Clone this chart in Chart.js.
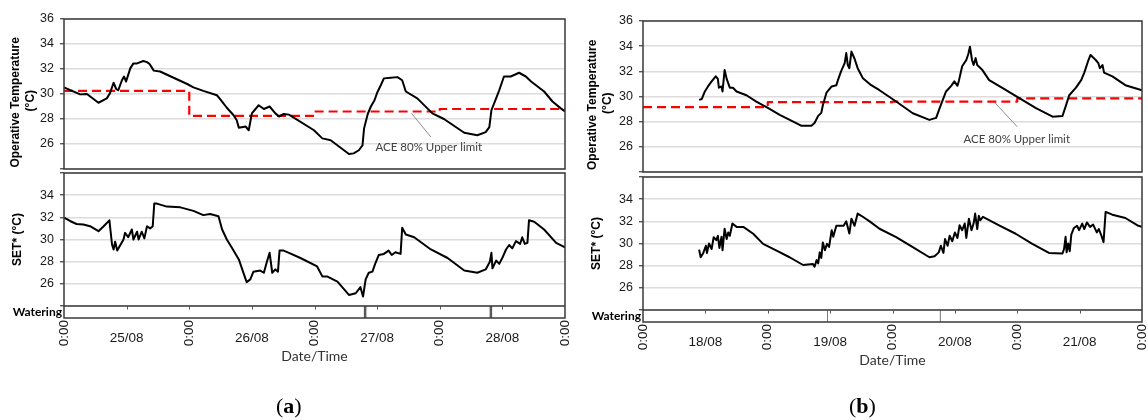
<!DOCTYPE html>
<html>
<head>
<meta charset="utf-8">
<script src="https://cdn.jsdelivr.net/npm/chart.js@4.4.1/dist/chart.umd.min.js"></script>
<style>
  html, body { margin: 0; padding: 0; background: #fff; }
  #wrap { position: relative; width: 1148px; height: 420px; overflow: hidden; }
  #wrap canvas { position: absolute; left: 0; top: 0; }
  .tag { position: absolute; top: 394px; line-height: 24px; font-family: 'Liberation Serif', 'DejaVu Serif', serif; font-size: 22px; color: #000; }
</style>
</head>
<body>
<div id="wrap">
  <canvas id="aTop" width="1148" height="420"></canvas>
  <canvas id="aBot" width="1148" height="420"></canvas>
  <canvas id="bTop" width="1148" height="420"></canvas>
  <canvas id="bBot" width="1148" height="420"></canvas>
  <div class="tag" style="left:276px">(<b>a</b>)</div>
  <div class="tag" style="left:849px">(<b>b</b>)</div>
</div>
<script>
// x = hours since the first midnight, 4 days per panel
const HOURS = 96;

const datesA = ['25/08', '26/08', '27/08', '28/08'];
const datesB = ['18/08', '19/08', '20/08', '21/08'];

// operative temperature, [hour, °C]
const opTempA = [
  [0, 30.53], [3.1, 29.97], [4.4, 30.0], [6.6, 29.3], [8.2, 29.65], [8.8, 30.05], [9.5, 30.9], [10.0, 30.4],
  [10.4, 30.3], [11.1, 31.1], [11.5, 31.4], [11.9, 31.0], [12.7, 32.05], [13.3, 32.45], [14.0, 32.45], [15.2, 32.64],
  [15.9, 32.55], [16.4, 32.4], [17.2, 31.87], [18.4, 31.8], [23.6, 30.8], [24.8, 30.53], [26.7, 30.25], [29.3, 29.9],
  [30.0, 29.55], [31.2, 28.9], [32.5, 28.3], [33.1, 27.9], [33.5, 27.3], [34.8, 27.4], [35.4, 27.1], [36.0, 28.45],
  [37.3, 29.1], [38.3, 28.8], [39.4, 29.0], [40.5, 28.45], [41.2, 28.2], [42.1, 28.4], [43.1, 28.35], [47.9, 27.1],
  [49.5, 26.45], [51.1, 26.3], [54.6, 25.2], [55.5, 25.25], [56.5, 25.5], [57.2, 25.9], [57.5, 27.25], [58.2, 28.4],
  [58.8, 29.0], [59.5, 29.5], [60.0, 30.1], [60.7, 30.7], [61.3, 31.25], [62.6, 31.3], [63.9, 31.35], [64.8, 31.1],
  [65.5, 30.2], [67.7, 29.65], [70.6, 28.45], [72.8, 28.0], [76.7, 26.9], [79.2, 26.7], [80.8, 26.95], [81.5, 27.35],
  [81.9, 28.7], [82.8, 29.65], [83.4, 30.3], [84.3, 31.4], [85.6, 31.4], [87.2, 31.7], [88.5, 31.4], [89.5, 31.0],
  [92.0, 30.2], [93.6, 29.4], [95.2, 28.85], [96, 28.6]
];
const opTempB = [
  [10.8, 29.73], [11.3, 29.8], [11.9, 30.4], [12.5, 30.8], [13.2, 31.2], [14.0, 31.6], [14.4, 31.4], [14.6, 30.7],
  [15.1, 30.8], [15.3, 30.4], [15.7, 32.1], [16.1, 31.4], [16.7, 30.7], [17.3, 30.7], [18.0, 30.4], [19.9, 30.1],
  [21.8, 29.6], [24.1, 29.07], [26.3, 28.54], [28.9, 28.0], [30.5, 27.67], [32.4, 27.67], [33.0, 27.9], [33.7, 28.46],
  [34.3, 28.7], [34.6, 29.3], [35.3, 30.3], [36.3, 30.8], [37.2, 30.9], [37.5, 31.3], [38.1, 32.0], [38.8, 32.65],
  [39.1, 33.45], [39.4, 32.5], [39.7, 32.25], [40.1, 33.57], [40.7, 33.0], [41.3, 32.25], [42.3, 31.45], [43.9, 30.9],
  [45.5, 30.5], [48.7, 29.6], [51.9, 28.67], [55.1, 28.14], [56.4, 28.3], [57.0, 29.0], [58.3, 30.4], [59.3, 30.85],
  [59.9, 31.2], [60.5, 30.85], [60.8, 31.3], [61.4, 32.4], [62.2, 32.9], [62.6, 33.4], [62.9, 33.96], [63.3, 32.9],
  [63.6, 32.5], [64.0, 33.05], [64.3, 32.5], [65.3, 32.1], [66.6, 31.3], [69.2, 30.66], [72.4, 29.87], [75.6, 29.07],
  [78.8, 28.4], [80.7, 28.45], [81.3, 29.2], [82.0, 30.1], [83.3, 30.7], [84.3, 31.3], [84.9, 31.9], [85.7, 32.9],
  [86.1, 33.3], [87.1, 32.9], [87.6, 32.65], [87.9, 32.25], [88.4, 32.5], [88.7, 31.9], [90.3, 31.6], [92.8, 30.9],
  [95.2, 30.6], [96, 30.5]
];

// SET*, [hour, °C]
const setA = [
  [0, 31.97], [1.15, 31.67], [2.4, 31.4], [3.7, 31.35], [5.0, 31.2], [6.6, 30.75], [7.6, 31.2], [8.7, 31.73],
  [9.2, 29.55], [9.5, 29.1], [9.8, 29.8], [10.2, 29.0], [10.8, 29.5], [11.4, 30.0], [11.7, 30.6], [12.3, 30.2],
  [13.0, 30.9], [13.3, 30.0], [14.0, 30.7], [14.3, 30.0], [14.9, 30.7], [15.4, 30.1], [15.9, 31.2], [16.5, 31.0],
  [17.0, 31.2], [17.3, 33.24], [17.8, 33.24], [19.7, 32.97], [22.3, 32.9], [24.8, 32.58], [26.7, 32.2], [28.0, 32.3],
  [29.6, 32.1], [30.3, 30.9], [31.2, 30.0], [32.2, 29.24], [33.5, 28.2], [34.4, 26.97], [35.0, 26.15], [35.7, 26.4],
  [36.3, 27.1], [37.6, 27.2], [38.3, 27.0], [38.9, 28.03], [39.4, 28.8], [39.9, 27.0], [40.5, 27.3], [41.0, 27.1],
  [41.3, 29.0], [42.1, 29.0], [43.1, 28.8], [45.3, 28.33], [48.5, 27.57], [49.5, 26.67], [50.4, 26.67], [52.4, 26.2],
  [54.6, 25.0], [55.9, 25.15], [56.8, 25.7], [57.3, 24.85], [57.8, 26.4], [58.4, 27.0], [59.1, 27.1], [59.7, 27.9],
  [60.3, 28.6], [61.3, 28.7], [62.2, 29.0], [62.8, 28.6], [63.5, 28.85], [64.5, 28.7], [64.8, 31.06], [65.5, 30.45],
  [67.1, 30.2], [70.3, 29.1], [73.5, 28.33], [76.7, 27.2], [79.2, 27.0], [80.8, 27.3], [81.6, 28.0], [81.9, 28.8],
  [82.1, 27.4], [82.8, 28.1], [83.4, 27.8], [84.0, 28.35], [84.7, 29.1], [85.3, 29.5], [85.9, 29.2], [86.6, 29.85],
  [87.4, 29.6], [87.8, 30.2], [88.3, 29.6], [88.8, 29.7], [89.1, 31.73], [90.1, 31.6], [92.0, 30.9], [94.3, 29.7],
  [96, 29.3]
];
const setB = [
  [10.8, 29.45], [11.1, 28.75], [11.6, 29.15], [12.1, 29.8], [12.3, 29.15], [12.7, 30.0], [13.2, 29.5], [13.6, 30.57],
  [14.1, 30.3], [14.4, 30.7], [14.7, 29.6], [15.1, 30.6], [15.3, 29.4], [15.7, 31.33], [16.1, 30.4], [16.4, 31.0],
  [16.7, 30.7], [17.2, 31.8], [18.0, 31.5], [19.3, 31.5], [21.2, 30.88], [23.1, 29.97], [25.7, 29.36], [28.2, 28.76],
  [30.8, 28.06], [32.7, 28.15], [33.0, 27.9], [33.4, 28.5], [33.7, 28.2], [34.0, 29.2], [34.3, 28.7], [34.6, 30.1],
  [35.0, 29.4], [35.4, 29.97], [35.8, 29.7], [36.3, 31.2], [36.6, 30.6], [37.2, 31.6], [37.9, 31.6], [38.6, 31.6],
  [39.1, 32.0], [39.7, 30.9], [40.1, 32.24], [40.7, 31.6], [41.3, 32.7], [42.0, 32.5], [43.6, 32.0], [45.5, 31.33],
  [48.7, 30.57], [51.9, 29.67], [55.1, 28.76], [56.1, 28.85], [56.9, 29.2], [57.3, 29.8], [57.8, 29.15], [58.1, 30.4],
  [58.6, 29.8], [59.0, 30.7], [59.5, 30.2], [60.0, 31.0], [60.5, 30.5], [60.9, 31.64], [61.4, 31.2], [61.9, 31.8],
  [62.2, 30.5], [62.7, 32.24], [63.2, 31.2], [63.6, 31.8], [63.9, 32.7], [64.3, 31.3], [64.6, 32.5], [64.9, 32.1],
  [65.4, 32.4], [68.5, 31.64], [71.7, 30.88], [74.9, 29.97], [78.1, 29.15], [80.7, 29.1], [81.0, 29.5], [81.3, 30.6],
  [81.5, 29.2], [81.8, 30.0], [82.1, 29.3], [82.4, 30.8], [82.9, 31.4], [83.5, 31.6], [83.9, 31.2], [84.5, 31.8],
  [84.9, 31.3], [85.4, 31.9], [86.0, 31.5], [86.6, 31.7], [87.3, 31.0], [87.7, 31.3], [88.2, 30.7], [88.6, 30.12],
  [89.0, 32.85], [90.3, 32.6], [92.8, 32.3], [95.3, 31.6], [96, 31.5]
];

// ACE 80% upper limit, one value per day (last one closes the step)
const limitDays = [0, 24, 48, 72, 96];
const limitA = [30.25, 28.25, 28.6, 28.8, 28.8];
const limitB = [29.15, 29.55, 29.6, 29.85, 29.85];

// watering events, hour
const wateringA = [57.7, 81.8];
const wateringB = [35.5, 57.2];

// annotation: leader line from -> to, text centred at `at` (hour, °C)
const noteText = 'ACE 80% Upper limit';
const noteA = { from: [66.6, 28.45], to: [70.3, 26.56], at: [69.9, 25.76] };
const noteB = { from: [67.6, 29.55], to: [72.0, 27.59], at: [71.9, 26.63] };

const AXIS = '#3a3a3a';
const GRID = '#dcdcdc';
const TEXT = '#1a1a1a';
const ARIAL = "'Liberation Sans', Arial, sans-serif";

function pts(arr) { return arr.map(([x, y]) => ({ x, y })); }
function limitPts(vals) { return limitDays.map((d, i) => ({ x: d, y: vals[i] })); }
function waterPts(hours) {
  const out = [];
  hours.forEach(h => out.push({ x: h, y: 0 }, { x: h, y: 1 }, { x: h, y: null }));
  return out;
}

// box around each plot, watering divider, 12 h ticks, date labels, annotation text
const framePlugin = {
  id: 'frame',
  afterDraw(chart, args, opts) {
    const { ctx, chartArea: area, scales } = chart;
    const x = scales.x;
    ctx.save();
    ctx.strokeStyle = AXIS;
    ctx.lineWidth = 1.5;
    ctx.strokeRect(area.left, area.top, area.right - area.left, area.bottom - area.top);
    const set = scales.ySet;
    if (set) {
      ctx.beginPath();
      ctx.moveTo(area.left, set.bottom);
      ctx.lineTo(area.right, set.bottom);
      ctx.stroke();
      ctx.beginPath();
      ctx.strokeStyle = '#555';
      ctx.lineWidth = 1;
      for (let h = 12; h < HOURS; h += 12) {
        const px = Math.round(x.getPixelForValue(h)) + 0.5;
        ctx.moveTo(px, set.bottom);
        ctx.lineTo(px, set.bottom + 3.5);
      }
      ctx.stroke();
    }
    if (opts.dates) {
      ctx.fillStyle = TEXT;
      ctx.font = '13.5px ' + ARIAL;
      ctx.textAlign = 'center';
      ctx.textBaseline = 'middle';
      opts.dates.forEach((d, i) => ctx.fillText(d, x.getPixelForValue(i * 24 + 12), area.bottom + 20));
    }
    if (opts.note) {
      ctx.fillStyle = '#404040';
      ctx.font = '11.5px Lato, sans-serif';
      ctx.textAlign = 'center';
      ctx.textBaseline = 'middle';
      ctx.fillText(noteText, x.getPixelForValue(opts.note.at[0]), scales.y.getPixelForValue(opts.note.at[1]));
    }
    ctx.restore();
  }
};

function yTicks(hideTop) {
  return {
    stepSize: 2,
    autoSkip: false,
    color: TEXT,
    padding: 6,
    font: { family: ARIAL, size: 12.5 },
    callback: v => (v === 24 || (hideTop && v === 36)) ? '' : v
  };
}
const yGrid = { color: GRID, lineWidth: 1.5, tickColor: AXIS, tickLength: 4, tickWidth: 1.2 };

function baseOptions(pad, plugOpts) {
  return {
    responsive: false,
    animation: false,
    events: [],
    layout: { padding: pad },
    elements: { point: { radius: 0 }, line: { tension: 0, borderJoinStyle: 'round' } },
    plugins: { legend: { display: false }, tooltip: { enabled: false }, frame: plugOpts }
  };
}

function topChart(id, series, limit, note, box) {
  const opts = baseOptions(box.pad, { note });
  opts.scales = {
    x: { type: 'linear', display: false, min: 0, max: HOURS },
    y: {
      min: 24, max: 36,
      afterFit: s => { s.width = box.axisW; },
      ticks: yTicks(false),
      grid: yGrid,
      border: { display: false },
      title: {
        display: true, text: ['Operative Temperature     ', '(°C)    '], color: '#000',
        font: { family: ARIAL, size: 12, weight: 'bold', lineHeight: 1.25 },
        padding: { top: box.titlePad, bottom: 0 }
      }
    }
  };
  return new Chart(document.getElementById(id), {
    type: 'line',
    data: {
      datasets: [
        { data: pts(series), borderColor: '#000', borderWidth: 2 },
        { data: limitPts(limit), borderColor: '#ff0000', borderWidth: 2.2, borderDash: [9, 5], stepped: true },
        { data: pts([note.from, note.to]), borderColor: '#8c8c8c', borderWidth: 1 }
      ]
    },
    options: opts,
    plugins: [framePlugin]
  });
}

function bottomChart(id, series, water, dates, box) {
  const opts = baseOptions(box.pad, { dates });
  opts.scales = {
    x: {
      type: 'linear', min: 0, max: HOURS,
      afterFit: s => { s.height = box.xH; s.paddingLeft = 0; s.paddingRight = 0; },
      ticks: {
        stepSize: 24, autoSkip: false, minRotation: 90, maxRotation: 90, padding: 2,
        color: TEXT, font: { family: ARIAL, size: 13.5 }, callback: () => '0:00'
      },
      grid: { display: false, drawTicks: false },
      border: { display: false },
      title: { display: true, text: 'Date/Time', color: '#333', font: { family: 'Lato, sans-serif', size: 14 }, padding: 0 }
    },
    yWater: {
      position: 'left', stack: 'v', stackWeight: 12, min: 0, max: 1,
      afterFit: s => { s.width = box.axisW; },
      afterBuildTicks: s => { s.ticks = [{ value: 0.5 }]; },
      ticks: { callback: () => 'Watering', color: '#000', padding: 2, font: { family: 'Lato, sans-serif', size: 12, weight: 'bold' } },
      grid: { display: false, drawTicks: false },
      border: { display: false }
    },
    ySet: {
      position: 'left', stack: 'v', stackWeight: 133, min: 24, max: 36,
      afterFit: s => { s.width = box.axisW; },
      ticks: yTicks(true),
      grid: yGrid,
      border: { display: false },
      title: {
        display: true, text: 'SET* (°C)', color: '#000',
        font: { family: ARIAL, size: 12, weight: 'bold', lineHeight: 1 },
        padding: { top: box.titlePad, bottom: 0 }
      }
    }
  };
  return new Chart(document.getElementById(id), {
    type: 'line',
    data: {
      datasets: [
        { data: pts(series), borderColor: '#000', borderWidth: 2, yAxisID: 'ySet' },
        { data: waterPts(water), borderColor: box.waterColor, borderWidth: box.waterWidth, yAxisID: 'yWater' }
      ]
    },
    options: opts,
    plugins: [framePlugin]
  });
}

topChart('aTop', opTempA, limitA, noteA, { pad: { left: 0, top: 19, right: 583, bottom: 251 }, axisW: 64, titlePad: 8.5 });
bottomChart('aBot', setA, wateringA, datesA, {
  pad: { left: 0, top: 173, right: 583, bottom: 55 }, axisW: 64, xH: 47, titlePad: 12, waterColor: '#595959', waterWidth: 2.5
});
topChart('bTop', opTempB, limitB, noteB, { pad: { left: 580, top: 21, right: 6, bottom: 248 }, axisW: 63, titlePad: 5 });
bottomChart('bBot', setB, wateringB, datesB, {
  pad: { left: 580, top: 177, right: 6, bottom: 51 }, axisW: 63, xH: 47, titlePad: 11, waterColor: '#777', waterWidth: 1
});
</script>
</body>
</html>
